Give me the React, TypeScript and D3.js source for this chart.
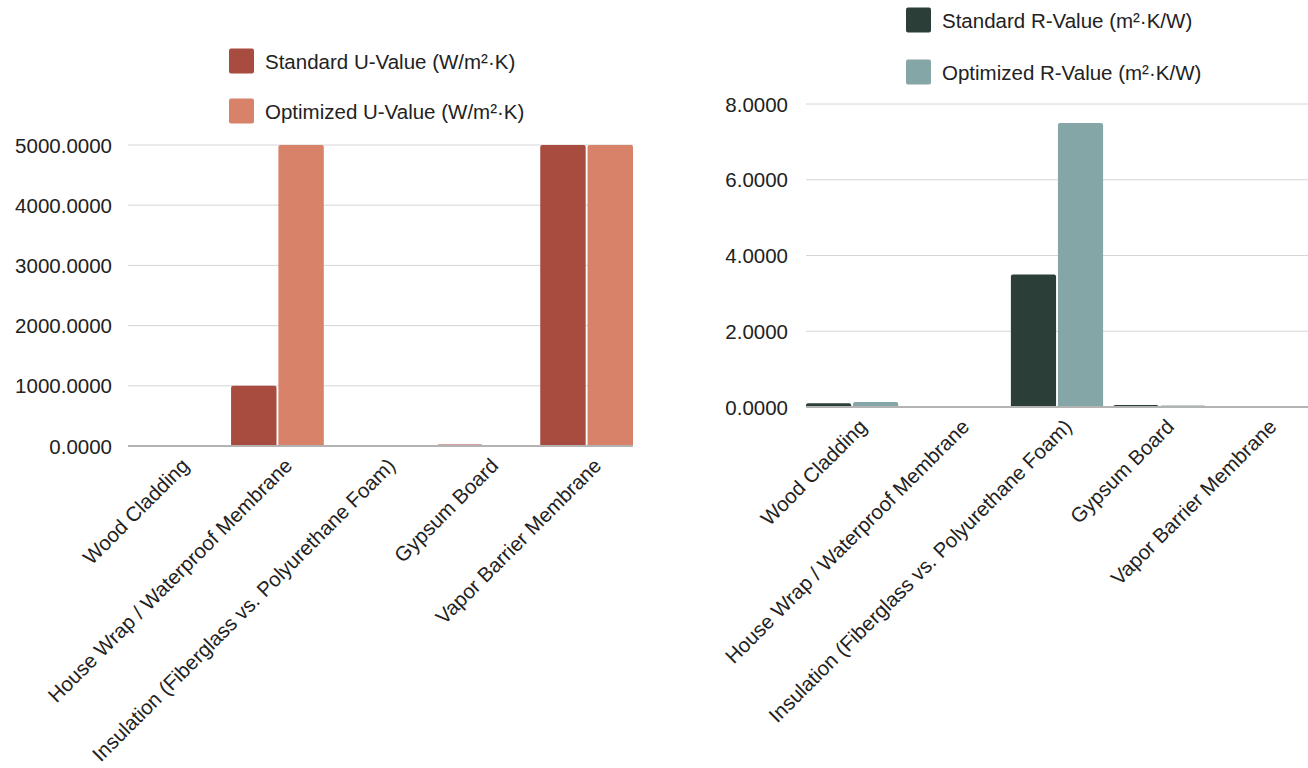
import React from "react";
import * as d3 from "d3";

const categories = [
  "Wood Cladding",
  "House Wrap / Waterproof Membrane",
  "Insulation (Fiberglass vs. Polyurethane Foam)",
  "Gypsum Board",
  "Vapor Barrier Membrane",
];
const stdU = [15, 1000, 0.29, 25, 5000];
const optU = [12, 5000, 0.13, 15, 5000];
const stdR = [0.1, 0.0002, 3.5, 0.05, 0.0002];
const optR = [0.13, 0.0002, 7.5, 0.04, 0.0002];
const uTicks = [0, 1000, 2000, 3000, 4000, 5000];
const rTicks = [0, 2, 4, 6, 8];
const uSeries = ["Standard U-Value (W/m²·K)", "Optimized U-Value (W/m²·K)"];
const rSeries = ["Standard R-Value (m²·K/W)", "Optimized R-Value (m²·K/W)"];

const FONT = "'Liberation Sans', Arial, Helvetica, sans-serif";
const FS = 20.5;

function topRounded(x: number, y: number, w: number, h: number, r: number) {
  if (h <= 0) return "";
  const rr = Math.min(r, h, w / 2);
  return `M${x},${y + h}V${y + rr}Q${x},${y} ${x + rr},${y}H${x + w - rr}Q${x + w},${y} ${x + w},${y + rr}V${y + h}Z`;
}

type PanelProps = {
  x0: number;
  x1: number;
  yTop: number;
  yBase: number;
  maxV: number;
  ticks: number[];
  a: number[];
  b: number[];
  colors: [string, string];
  labelRight: number;
  legend: string[];
  legendX: number;
  legendY: number[];
};

function Panel(p: PanelProps) {
  const x = d3.scaleBand<string>().domain(categories).range([p.x0, p.x1]).paddingInner(0.1).paddingOuter(0);
  const y = d3.scaleLinear().domain([0, p.maxV]).range([p.yBase, p.yTop]);
  const sub = d3.scaleBand<number>().domain([0, 1]).range([0, x.bandwidth()]).paddingInner(0.04);
  const fmt = d3.format(".4f");
  return (
    <g>
      {p.ticks.map((t) =>
        t === 0 ? null : (
          <line key={t} x1={p.x0} x2={p.x1} y1={y(t)} y2={y(t)} stroke="#d6d6d6" strokeWidth={1} />
        )
      )}
      {p.ticks.map((t) => (
        <text key={"l" + t} x={p.labelRight} y={y(t)} textAnchor="end" dominantBaseline="central" fontSize={FS} fill="#222" fontFamily={FONT}>
          {fmt(t)}
        </text>
      ))}
      {categories.map((c, i) => (
        <g key={c}>
          {[p.a[i], p.b[i]].map((v, j) => {
            const bx = (x(c) as number) + (sub(j) as number);
            const by = y(v);
            const h = p.yBase - by;
            return <path key={j} d={topRounded(bx, by, sub.bandwidth(), h, 2)} fill={p.colors[j]} />;
          })}
        </g>
      ))}
      <line x1={p.x0} x2={p.x1} y1={p.yBase} y2={p.yBase} stroke="#b3b3b3" strokeWidth={2} />
      {categories.map((c) => {
        const cx = (x(c) as number) + x.bandwidth() / 2 + 16;
        const cy = p.yBase + 21;
        return (
          <text key={"x" + c} x={cx} y={cy} transform={`rotate(-45 ${cx} ${cy})`} textAnchor="end" fontSize={FS} fill="#222" fontFamily={FONT}>
            {c}
          </text>
        );
      })}
      {p.legend.map((s, i) => (
        <g key={s}>
          <rect x={p.legendX} y={p.legendY[i] - 12.5} width={25} height={25} rx={2} fill={p.colors[i]} />
          <text x={p.legendX + 36} y={p.legendY[i]} dominantBaseline="central" fontSize={FS} fill="#222" fontFamily={FONT}>
            {s}
          </text>
        </g>
      ))}
    </g>
  );
}

export default function App() {
  return (
    <svg width={1308} height={768} style={{ position: "absolute", left: 0, top: 0, background: "#fff" }}>
      <Panel
        x0={128}
        x1={633}
        yTop={145}
        yBase={446}
        maxV={5000}
        ticks={uTicks}
        a={stdU}
        b={optU}
        colors={["#a84c40", "#d8826a"]}
        labelRight={112}
        legend={uSeries}
        legendX={229}
        legendY={[61, 111]}
      />
      <Panel
        x0={806}
        x1={1308}
        yTop={104}
        yBase={407}
        maxV={8}
        ticks={rTicks}
        a={stdR}
        b={optR}
        colors={["#2b3f38", "#85a6a7"]}
        labelRight={788}
        legend={rSeries}
        legendX={906}
        legendY={[20, 72]}
      />
    </svg>
  );
}
